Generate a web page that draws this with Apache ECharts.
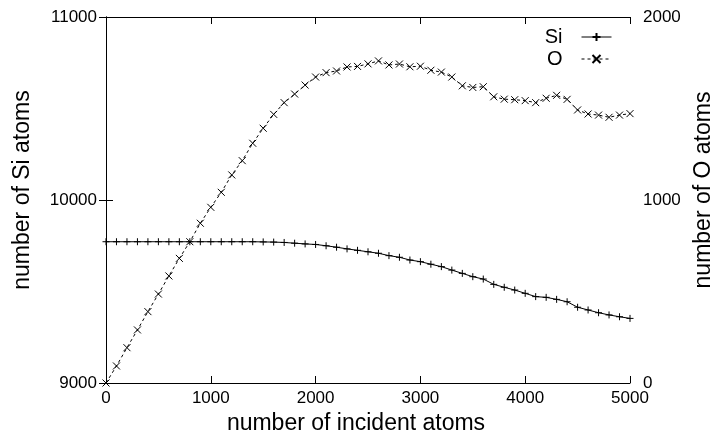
<!DOCTYPE html>
<html>
<head>
<meta charset="utf-8">
<script src="https://cdn.jsdelivr.net/npm/echarts@6/dist/echarts.min.js"></script>
<style>html,body{margin:0;padding:0;background:#fff}#c{width:718px;height:439px}</style>
</head>
<body>
<div id="c"></div>
<script>
var incident = [0,100,200,300,400,500,600,700,800,900,1000,1100,1200,1300,1400,1500,1600,1700,1800,1900,2000,2100,2200,2300,2400,2500,2600,2700,2800,2900,3000,3100,3200,3300,3400,3500,3600,3700,3800,3900,4000,4100,4200,4300,4400,4500,4600,4700,4800,4900,5000];
var siAtoms = [9772,9772,9772,9772,9772,9772,9772,9772,9772,9772,9772,9772,9772,9772,9772,9771,9770,9768,9764,9760,9757,9750,9742,9733,9725,9717,9709,9696,9687,9672,9663,9649,9636,9617,9599,9581,9568,9539,9523,9508,9490,9472,9468,9457,9444,9414,9399,9384,9372,9362,9353];
var oAtoms = [0,93,193,290,390,486,585,681,772,873,960,1042,1137,1215,1310,1392,1468,1532,1579,1628,1672,1696,1705,1727,1730,1744,1760,1738,1743,1728,1731,1709,1699,1672,1624,1615,1619,1564,1551,1548,1543,1532,1556,1572,1550,1492,1470,1464,1452,1464,1472];
var seriesNames = ['Si', 'O'];
var xTitle = 'number of incident atoms';
var ySiTitle = 'number of Si atoms';
var yOTitle = 'number of O atoms';

function pairs(xs, ys) { return xs.map(function (x, i) { return [x, ys[i]]; }); }
function plain(v) { return String(v); }

var font = 'Liberation Sans, Arial, Helvetica, sans-serif';
var plus = 'path://M0,5L10,5M5,0L5,10';
var cross = 'path://M0,0L10,10M10,0L0,10';
var tickFont = { fontFamily: font, fontSize: 17, color: '#000' };
var titleFont = { fontFamily: font, fontSize: 23, color: '#000' };

var chart = echarts.init(document.getElementById('c'));
chart.setOption({
  animation: false,
  backgroundColor: '#fff',
  grid: { left: 106, right: 88, top: 17, bottom: 56, containLabel: false, outerBoundsMode: 'none' },
  legend: {
    data: seriesNames,
    right: 101, top: 22,
    orient: 'vertical',
    align: 'right',
    itemWidth: 30, itemHeight: 10, itemGap: 2,
    lineStyle: { width: 1 },
    formatter: function (n) { return '{a|' + n + '}'; },
    textStyle: { fontFamily: font, fontSize: 20, color: '#000', rich: { a: { fontFamily: font, fontSize: 20, color: '#000', padding: [0, 14, 0, 0] } } }
  },
  xAxis: [{
    type: 'value', min: 0, max: 5000, interval: 1000,
    name: xTitle, nameLocation: 'middle', nameGap: 27,
    nameTextStyle: Object.assign({ padding: [0, 24, 0, 0] }, titleFont),
    axisLine: { lineStyle: { color: '#000', width: 1 } },
    axisTick: { inside: true, length: 7, lineStyle: { color: '#000' } },
    axisLabel: Object.assign({ margin: 7, formatter: plain }, tickFont),
    splitLine: { show: false }
  }, {
    type: 'value', min: 0, max: 5000, interval: 1000, position: 'top',
    axisLine: { lineStyle: { color: '#000', width: 1 } },
    axisTick: { inside: true, length: 7, lineStyle: { color: '#000' } },
    axisLabel: { show: false },
    splitLine: { show: false }
  }],
  yAxis: [{
    type: 'value', min: 9000, max: 11000, interval: 1000, position: 'left',
    name: ySiTitle, nameLocation: 'middle', nameGap: 72, nameRotate: 90,
    nameTextStyle: Object.assign({ padding: [0, 0, 0, 20] }, titleFont),
    axisLine: { show: true, lineStyle: { color: '#000', width: 1 } },
    axisTick: { show: true, inside: true, length: 7, lineStyle: { color: '#000' } },
    axisLabel: Object.assign({ margin: 9, formatter: plain }, tickFont),
    splitLine: { show: false }
  }, {
    type: 'value', min: 0, max: 2000, interval: 1000, position: 'right',
    name: yOTitle, nameLocation: 'middle', nameGap: 60, nameRotate: 90,
    nameTextStyle: Object.assign({ padding: [0, 0, 0, 20] }, titleFont),
    axisLine: { show: true, lineStyle: { color: '#000', width: 1 } },
    axisTick: { show: true, inside: true, length: 7, lineStyle: { color: '#000' } },
    axisLabel: Object.assign({ margin: 13, formatter: plain }, tickFont),
    splitLine: { show: false }
  }],
  series: [{
    name: seriesNames[0], type: 'line', xAxisIndex: 0, yAxisIndex: 0,
    data: pairs(incident, siAtoms),
    symbol: plus, symbolSize: 7, showAllSymbol: true,
    lineStyle: { color: '#000', width: 1 },
    itemStyle: { color: '#000', borderColor: '#000', borderWidth: 1 }
  }, {
    name: seriesNames[1], type: 'line', xAxisIndex: 0, yAxisIndex: 1,
    data: pairs(incident, oAtoms),
    symbol: cross, symbolSize: 7, showAllSymbol: true,
    lineStyle: { color: '#000', width: 1, type: [3, 3] },
    itemStyle: { color: '#000', borderColor: '#000', borderWidth: 1 }
  }]
});
</script>
</body>
</html>
